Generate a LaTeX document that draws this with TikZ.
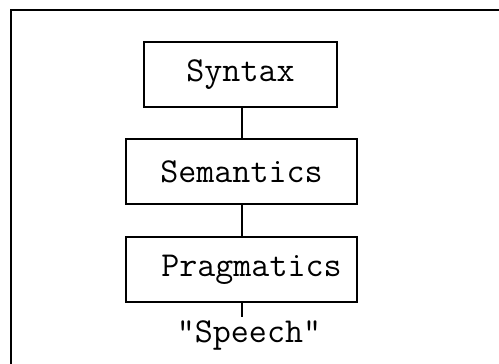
\documentclass[tikz,border=0pt]{standalone}
\usepackage{fontspec}
\begin{document}
\begin{tikzpicture}[x=1pt,y=-1pt,
  layer/.style={draw,line width=1.3pt,rectangle,inner sep=0pt,minimum height=65pt,font=\ttfamily\fontsize{35}{40}\selectfont},
  link/.style={line width=1.3pt},
  frame/.style={line width=1.3pt}]
\useasboundingbox (0,0) rectangle (499,364);
\coordinate (ftr) at (499,10);
\coordinate (ftl) at (11,10);
\coordinate (fbl) at (11,364);
\draw[frame] (ftr) -- (ftl) -- (fbl);
\node[layer,minimum width=193pt] (syn) at (240.5,74.5) {Syntax\hspace{17pt}};
\node[layer,minimum width=231pt] (sem) at (241.5,171.5) {Semantics};
\node[layer,minimum width=231pt] (prag) at (241.5,269.5) {\hspace{20pt}Pragmatics};
\node[anchor=base,inner sep=0pt,font=\ttfamily\fontsize{35}{40}\selectfont] (speech) at (249,342) {"Speech"};
\coordinate (send) at (242,317);
\draw[link] (syn.south -| 242,0) -- (sem.north -| 242,0);
\draw[link] (sem.south -| 242,0) -- (prag.north -| 242,0);
\draw[link] (prag.south -| 242,0) -- (send);
\end{tikzpicture}
\end{document}
